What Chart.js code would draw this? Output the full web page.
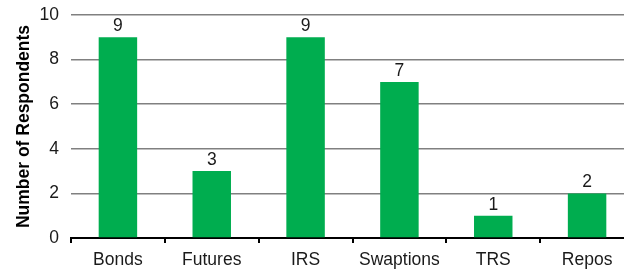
<!DOCTYPE html>
<html>
<head>
<meta charset="utf-8">
<script src="https://cdn.jsdelivr.net/npm/chart.js@4.4.0/dist/chart.umd.min.js"></script>
<style>
  html, body { margin: 0; padding: 0; overflow: hidden; background: #fff; }
  #wrap { width: 640px; height: 274px; }
</style>
</head>
<body>
<div id="wrap"><canvas id="cuadro" width="640" height="274"></canvas></div>
<script>
const categorias = ["Bonds", "Futures", "IRS", "Swaptions", "TRS", "Repos"];
const respuestas = [9, 3, 9, 7, 1, 2];
const titulo_y = "Number of Respondents";

const fuente = "'Liberation Sans', Arial, Helvetica, sans-serif";

// etiquetas encima de cada barra
const etiquetas = {
  id: "etiquetas",
  afterDatasetsDraw(chart) {
    const ctx = chart.ctx;
    const meta = chart.getDatasetMeta(0);
    ctx.save();
    ctx.font = "17.5px " + fuente;
    ctx.fillStyle = "#1a1a1a";
    ctx.textAlign = "center";
    ctx.textBaseline = "alphabetic";
    meta.data.forEach((bar, i) => {
      ctx.fillText(String(respuestas[i]), bar.x, bar.y - 6);
    });
    ctx.restore();
  }
};

const ctx = document.getElementById("cuadro");

let cuadro = new Chart(ctx, {
  type: "bar",
  data: {
    labels: categorias,
    datasets: [
      {
        label: titulo_y,
        data: respuestas,
        backgroundColor: "#00ad4f",
        borderWidth: 0,
        categoryPercentage: 1,
        barPercentage: 0.41
      }
    ]
  },
  options: {
    responsive: false,
    animation: false,
    layout: { padding: { left: 0, right: 6, top: 15, bottom: 0 } },
    plugins: {
      legend: { display: false },
      tooltip: { enabled: false }
    },
    scales: {
      x: {
        grid: {
          offset: true,
          drawOnChartArea: false,
          drawTicks: true,
          tickLength: 5,
          color: "#000",
          lineWidth: 2
        },
        border: { display: true, color: "#000", width: 2 },
        ticks: {
          color: "#1a1a1a",
          font: { family: fuente, size: 17.5 },
          padding: 7,
          maxRotation: 0
        },
        afterFit(scale) {
          scale.height = 36;
          scale.paddingLeft = 0;
          scale.paddingRight = 0;
        }
      },
      y: {
        min: 0,
        max: 10,
        ticks: {
          stepSize: 2,
          color: "#1a1a1a",
          font: { family: fuente, size: 17.5 },
          padding: 12
        },
        grid: { color: "#808080", lineWidth: 1.5, drawTicks: false },
        border: { display: false },
        title: {
          display: true,
          text: titulo_y,
          color: "#000",
          font: { family: fuente, size: 17.5, weight: "bold" },
          padding: { top: 14, bottom: 0 }
        },
        afterFit(scale) {
          scale.width = 71;
          scale.paddingTop = 0;
          scale.paddingBottom = 0;
        }
      }
    }
  },
  plugins: [etiquetas]
});
</script>
</body>
</html>
